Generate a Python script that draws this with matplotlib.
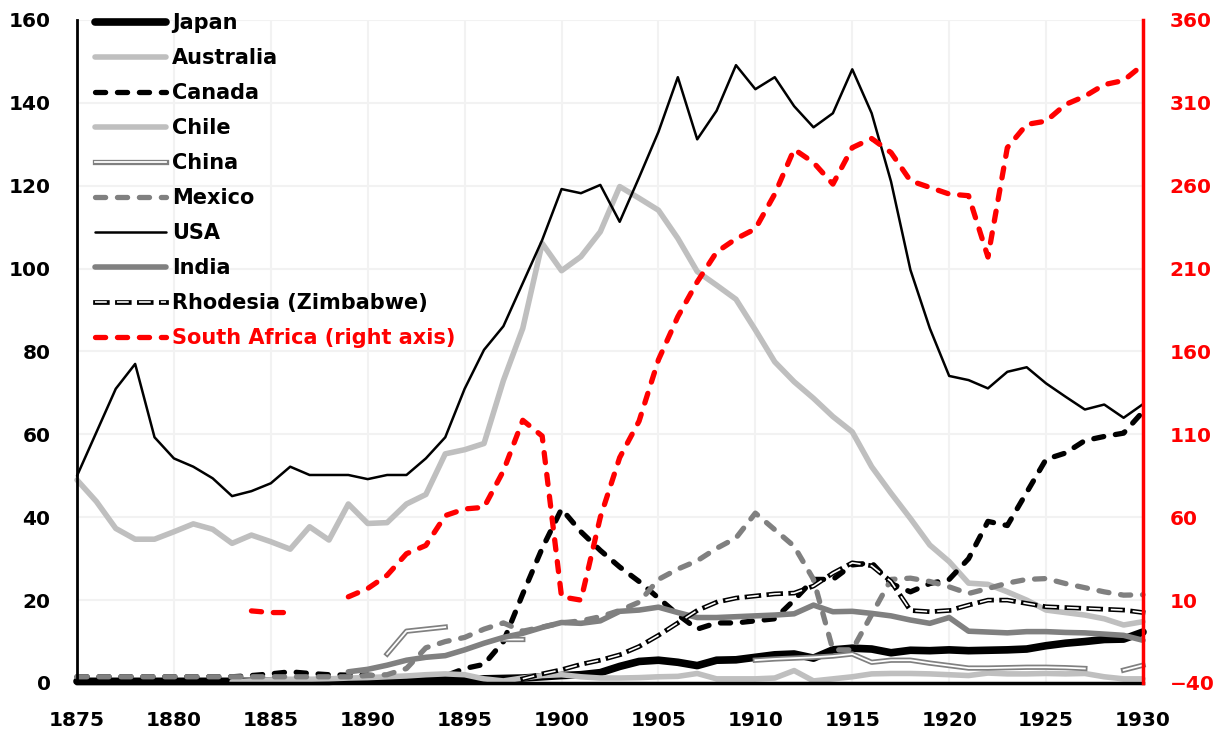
import numpy as np
import matplotlib
matplotlib.use("Agg")
import matplotlib.pyplot as plt
import matplotlib.patheffects as pe

nan = np.nan
plt.rcParams['font.family'] = ['DejaVu Sans']
plt.rcParams['lines.scale_dashes'] = False

years = list(range(1875, 1931))

japan = [0.4, 0.4, 0.4, 0.4, 0.4, 0.4, 0.4, 0.4, 0.4, 0.4, 0.4, 0.4, 0.4, 0.4,
         0.6, 0.7, 0.8, 0.8, 0.9, 0.9, 1.0, 1.0, 1.1, 1.2, 1.5, 1.8, 2.0, 2.5,
         4.0, 5.2, 5.5, 5.0, 4.2, 5.5, 5.6, 6.2, 6.8, 7.0, 6.0, 8.0, 8.4, 8.2,
         7.3, 7.9, 7.8, 8.0, 7.8, 7.9, 8.0, 8.2, 9.0, 9.6, 10.0, 10.5, 10.6, 12.3]
australia = [49, 43.8, 37.3, 34.7, 34.7, 36.5, 38.4, 37.1, 33.7, 35.7, 34.1, 32.3,
             37.7, 34.5, 43.2, 38.5, 38.7, 43.2, 45.5, 55.3, 56.3, 57.8, 73, 85.6,
             106.1, 99.5, 102.9, 108.9, 119.8, 117, 114.1, 107.3, 99.3, 96, 92.6,
             85.2, 77.5, 72.7, 68.7, 64.3, 60.6, 52.2, 45.8, 39.7, 33.3, 29.3, 24.1,
             23.8, 22, 20, 17.6, 17, 16.4, 15.5, 14, 14.8]
canada = [1.5, 1.5, 1.5, 1.5, 1.5, 1.5, 1.5, 1.5, 1.5, 1.8, 2.2, 2.7, 2.3, 2.0,
          1.9, 1.9, 1.5, 1.4, 1.4, 1.7, 3.5, 4.5, 10, 21.5, 32.5, 42, 36.5, 32,
          28, 24.5, 20.5, 16.5, 13, 14.5, 14.5, 15, 15.5, 20, 25, 25, 28.5, 29,
          24, 22, 24, 25, 30, 39, 38, 46, 54, 55.5, 58.5, 59.5, 60.3, 65.5]
chile = [nan, nan, nan, nan, nan, nan, nan, nan, 0.3, 0.5, 0.7, 0.9, 0.9, 1.0,
         1.2, 1.3, 1.5, 1.7, 2.0, 2.2, 2.0, 1.0, 0.5, 1.2, 1.8, 2.0, 1.5, 1.2,
         1.2, 1.3, 1.5, 1.6, 2.3, 1.0, 1.0, 1.0, 1.2, 3.0, 0.5, 1.0, 1.5, 2.2,
         2.3, 2.3, 2.2, 2.0, 1.8, 2.4, 2.2, 2.2, 2.3, 2.2, 2.3, 1.5, 1.0, 1.0]
china = [nan, nan, nan, nan, nan, nan, nan, nan, nan, nan, nan, nan, nan, nan,
         nan, nan, 7, 12.5, 13, 13.5, nan, nan, 10.5, 10.5, nan, nan, nan, nan,
         nan, nan, nan, nan, nan, nan, nan, 5.5, 5.8, 6.0, 6.2, 6.5, 7.0, 5.0,
         5.5, 5.5, 4.8, 4.2, 3.6, 3.6, 3.7, 3.8, 3.8, 3.7, 3.5, nan, 3.1, 4.3]
mexico = [1.5, 1.5, 1.5, 1.5, 1.5, 1.5, 1.5, 1.5, 1.5, 1.5, 1.5, 1.5, 1.5, 1.5,
          1.5, 1.8, 2.0, 3.5, 8.5, 10, 11, 13, 14.5, 12.5, 13.5, 14.5, 15, 16,
          17.5, 19.5, 25, 27.5, 29.5, 32.5, 35, 41, 37, 33, 25, 8, 8, 16.5,
          25, 25.3, 24.5, 23.2, 21.6, 22.8, 24.1, 25, 25.2, 24, 23, 22, 21.2, 21.3]
usa = [50, 60.5, 71, 77, 59.3, 54.2, 52.2, 49.4, 45.1, 46.3, 48.2, 52.2, 50.2,
       50.2, 50.2, 49.2, 50.2, 50.2, 54.2, 59.3, 71, 80.4, 86.1, 96.5, 106.9,
       119.2, 118.2, 120.2, 111.3, 122, 133, 146.2, 131.2, 138.1, 149.1, 143.3,
       146.2, 139.2, 134.1, 137.5, 148.1, 137.5, 121, 99.7, 85.6, 74.1, 73.1,
       71.1, 75.1, 76.2, 72.3, 69.1, 66.0, 67.2, 64.0, 67.3]
india = [nan, nan, nan, nan, nan, nan, nan, nan, nan, nan, nan, nan, nan, nan,
         2.7, 3.3, 4.3, 5.5, 6.2, 6.6, 8.0, 9.6, 11.0, 12.0, 13.4, 14.6, 14.4,
         15.0, 17.3, 17.6, 18.3, 17.0, 15.8, 15.8, 16.0, 16.2, 16.4, 16.7, 18.8,
         17.2, 17.3, 16.8, 16.2, 15.2, 14.4, 15.8, 12.5, 12.3, 12.1, 12.4, 12.4,
         12.2, 12.1, 11.8, 11.5, 10.3]
rhodesia = [nan, nan, nan, nan, nan, nan, nan, nan, nan, nan, nan, nan, nan, nan,
            nan, nan, nan, nan, nan, nan, nan, nan, nan, 1.0, 2.2, 3.2, 4.5, 5.5,
            6.8, 8.8, 11.5, 14.5, 17.5, 19.5, 20.5, 21, 21.5, 21.7, 23.4, 26.5, 29,
            28.3, 24.5, 17.5, 17.2, 17.5, 18.8, 20, 20, 19.2, 18.4, 18.2, 18, 17.8,
            17.6, 17.0]
south_africa = [nan, nan, nan, nan, nan, nan, nan, nan, nan, 3.5, 2.5, 2.5, nan,
                nan, 12, 17, 25, 38, 43, 61, 65, 66, 88, 118.5, 109, 12, 10, 60,
                96, 118, 155, 181, 202, 220, 228, 234, 255, 282, 274, 261, 283,
                288.5, 280, 263, 259, 255, 254, 217, 283, 297, 299, 309, 314, 321,
                323.5, 333]

fig = plt.figure(figsize=(12.23, 7.35), dpi=100)
ax = fig.add_axes([77 / 1223, 52 / 735, 1066 / 1223, 663 / 735])
ax2 = ax.twinx()

dash = (7.3, 8.5)
kw = dict(clip_on=False, solid_capstyle='round')
l_japan, = ax.plot(years, japan, color='black', lw=5.5, label='Japan', **kw)
l_aus, = ax.plot(years, australia, color='#BFBFBF', lw=4, label='Australia', **kw)
l_can, = ax.plot(years, canada, color='black', lw=3.8, dashes=dash,
                 dash_capstyle='round', label='Canada', clip_on=False)
l_chile, = ax.plot(years, chile, color='#BFBFBF', lw=4, label='Chile', **kw)
l_china, = ax.plot(years, china, color='white', lw=1.3, label='China', clip_on=False,
                   path_effects=[pe.Stroke(linewidth=3.8, foreground='#808080'), pe.Normal()])
l_mex, = ax.plot(years, mexico, color='#808080', lw=3.8, dashes=dash,
                 dash_capstyle='round', label='Mexico', clip_on=False)
l_usa, = ax.plot(years, usa, color='black', lw=1.8, label='USA', **kw)
l_india, = ax.plot(years, india, color='#808080', lw=4, label='India', **kw)
l_rho, = ax.plot(years, rhodesia, color='white', lw=1.2, dashes=(8.5, 7.3),
                 dash_capstyle='butt', label='Rhodesia (Zimbabwe)', clip_on=False,
                 path_effects=[pe.Stroke(linewidth=3.4, foreground='black', capstyle='projecting'),
                               pe.Normal()])
l_sa, = ax2.plot(years, south_africa, color='red', lw=3.8, dashes=dash,
                 dash_capstyle='round', label='South Africa (right axis)', clip_on=False)

ax.set_xlim(1875, 1930)
ax.set_ylim(0, 160)
ax2.set_ylim(-40, 360)
ax.set_xticks(range(1875, 1931, 5))
ax.set_yticks(range(0, 161, 20))
ax2.set_yticks(range(-40, 361, 50))

ax.set_axisbelow(True)
ax.grid(True, color='#F2F2F2', lw=1.5)

for s in ['top', 'right']:
    ax.spines[s].set_visible(False)
ax.spines['left'].set_linewidth(2)
ax.spines['bottom'].set_linewidth(2.5)
for s in ['top', 'left', 'bottom']:
    ax2.spines[s].set_visible(False)
ax2.spines['right'].set_color('red')
ax2.spines['right'].set_linewidth(2.5)

ax.tick_params(axis='y', length=0, pad=19, labelsize=14.5)
ax.tick_params(axis='x', length=0, pad=20, labelsize=14.5)
ax2.tick_params(axis='y', length=0, pad=19, labelsize=14.5, labelcolor='red')
for lab in ax.get_xticklabels() + ax.get_yticklabels() + ax2.get_yticklabels():
    lab.set_fontweight('bold')

handles = [l_japan, l_aus, l_can, l_chile, l_china, l_mex, l_usa, l_india, l_rho, l_sa]
leg = ax2.legend(handles=handles, loc='upper left', bbox_to_anchor=(95 / 1223, 0.982),
                 bbox_transform=fig.transFigure, frameon=False,
                 prop={'weight': 'bold', 'size': 15}, handlelength=3.4,
                 handletextpad=0.3, labelspacing=0.72, borderpad=0, borderaxespad=0)
leg.get_texts()[-1].set_color('red')

fig.savefig('out.png', dpi=100)
